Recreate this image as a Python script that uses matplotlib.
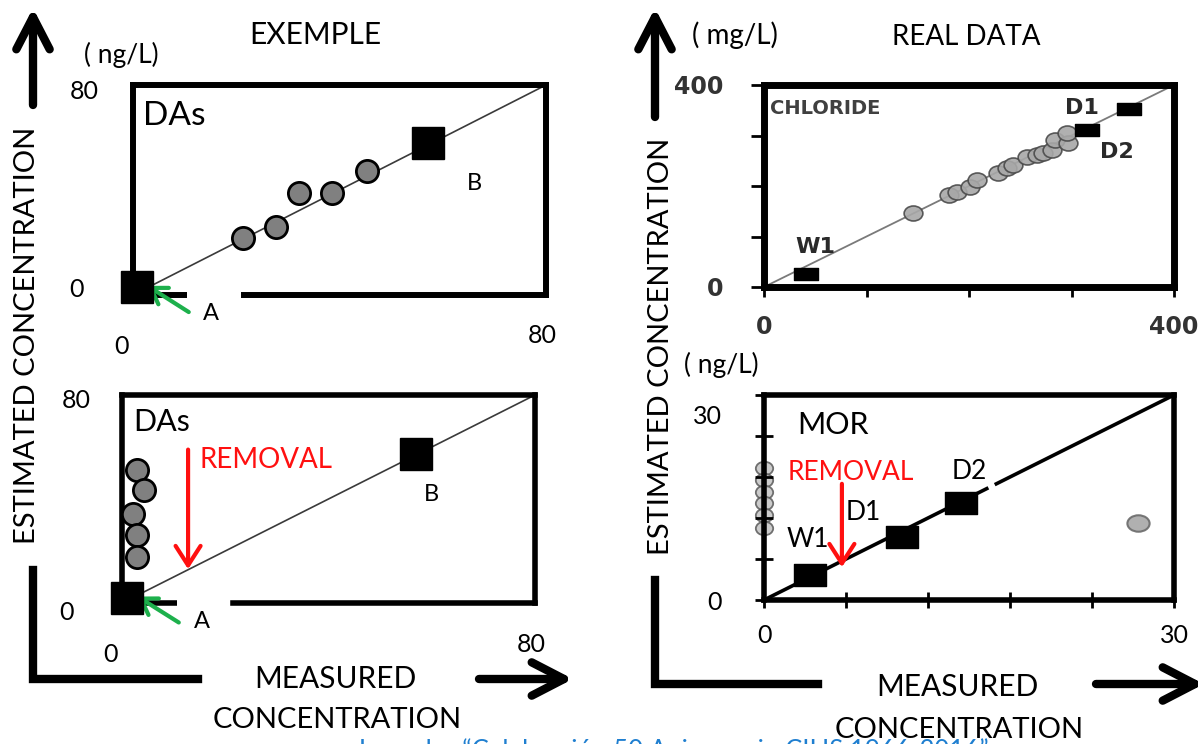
import matplotlib
matplotlib.use("Agg")
import matplotlib.pyplot as plt
from matplotlib.path import Path
from matplotlib.patches import Rectangle
from matplotlib.transforms import ScaledTranslation

plt.rcParams['font.family'] = ['Lato', 'DejaVu Sans']

W, H = 1198, 744

# EXEMPLE panels (ng/L), 0-80 on both axes
example_ticks = [0, 80]
ex_top_circles_x = [21.3, 27.7, 32.2, 38.6, 45.3]
ex_top_circles_y = [21.7, 25.9, 38.9, 38.9, 47.2]
ex_top_squares_x = [0.8, 57.2]
ex_top_squares_y = [3.0, 57.9]
ex_bot_circles_x = [2.9, 4.3, 2.1, 2.9, 2.9]
ex_bot_circles_y = [51.2, 43.5, 34.2, 26.2, 17.7]
ex_bot_squares_x = [1.0, 57.0]
ex_bot_squares_y = [2.0, 57.3]

# REAL DATA - chloride (mg/L)
chloride_ticks = [0, 100, 200, 300, 400]
chloride_x = [145, 180, 188, 201, 208, 228, 237, 243, 257, 266, 272, 281, 284, 297, 296]
chloride_y = [147, 182, 188, 198, 212, 226, 236, 242, 257, 261, 265, 271, 291, 285, 305]
chloride_sites = ['W1', 'D1', 'D2']
chloride_site_x = [41, 356, 315]
chloride_site_y = [26, 352, 311]

# REAL DATA - MOR (ng/L)
mor_ticks = [0, 6, 12, 18, 24, 30]
mor_x = [0, 0, 0, 0, 0, 0]
mor_y = [19.3, 17.6, 15.8, 14.2, 12.4, 10.5]
mor_out_x = [27.4]
mor_out_y = [11.3]
mor_sites = ['W1', 'D1', 'D2']
mor_site_x = [3.4, 10.1, 14.4]
mor_site_y = [3.7, 9.2, 14.2]

fig = plt.figure(figsize=(W / 100, H / 100), dpi=100)


def panel(l, t, r, b):
    return fig.add_axes([l / W, 1 - b / H, (r - l) / W, (b - t) / H], facecolor='none')


def rect_marker(aspect):
    return Path([(-1, -aspect), (1, -aspect), (1, aspect), (-1, aspect), (-1, -aspect)], closed=True)


def oval_marker(aspect):
    c = Path.unit_circle()
    return Path(c.vertices * [1, aspect], c.codes)


# overlay in pixel coords for the big axis arrows and titles
ax0 = fig.add_axes([0, 0, 1, 1], zorder=-1)
ax0.set_xlim(0, W)
ax0.set_ylim(H, 0)
ax0.axis('off')


def big_arrow(p0, p1):
    ax0.annotate('', xy=p1, xytext=p0, annotation_clip=False,
                 arrowprops=dict(arrowstyle='->,head_length=0.58,head_width=0.3',
                                 lw=6, color='black', mutation_scale=40,
                                 shrinkA=0, shrinkB=0))


big_arrow((33, 105), (33, 8))
big_arrow((655, 117), (655, 8))
big_arrow((479, 679), (573, 679))
big_arrow((1096, 684), (1204, 684))
ax0.plot([33, 33, 198], [570, 679, 679], color='black', lw=6, solid_joinstyle='miter')
ax0.plot([655, 655, 818], [580, 684, 684], color='black', lw=6, solid_joinstyle='miter')

ax0.text(315, 35, 'EXEMPLE', ha='center', va='center', fontsize=21.5)
ax0.text(121, 55, '( ng/L)', ha='center', va='center', fontsize=19)
ax0.text(735, 35, '( mg/L)', ha='center', va='center', fontsize=20)
ax0.text(966, 37, 'REAL DATA', ha='center', va='center', fontsize=20)
ax0.text(721, 365, '( ng/L)', ha='center', va='center', fontsize=19)
ax0.text(27, 335, 'ESTIMATED CONCENTRATION', rotation=90, ha='center', va='center', fontsize=21)
ax0.text(661, 346, 'ESTIMATED CONCENTRATION', rotation=90, ha='center', va='center', fontsize=21)
ax0.text(335, 679, 'MEASURED', ha='center', va='center', fontsize=21.5)
ax0.text(337, 720, 'CONCENTRATION', ha='center', va='center', fontsize=21)
ax0.text(957, 687, 'MEASURED', ha='center', va='center', fontsize=21.5)
ax0.text(959, 730, 'CONCENTRATION', ha='center', va='center', fontsize=21)
# footer caption, only its top edge falls inside the picture
ax0.text(355, 759, 'Jornadas \u201cCelebraci\u00f3n 50 Aniversario CIHS 1966-2016\u201d',
         ha='left', va='baseline', fontsize=18.5, color='#1f7fd0')


def example_panel(ax, cx, cy, sx, sy, lw, gap, b_off, a_off):
    ax.set_xlim(example_ticks)
    ax.set_ylim(example_ticks)
    ax.set_xticks([])
    ax.set_yticks([])
    for s in ax.spines.values():
        s.set_linewidth(lw)
    ax.spines['bottom'].set_bounds(gap[1], example_ticks[1])
    ax.plot([example_ticks[0], gap[0]], [0, 0], color='black', lw=lw,
            solid_capstyle='butt', clip_on=False, zorder=2.5)
    ax.plot(example_ticks, example_ticks, color='#3a3a3a', lw=1.2, zorder=2)
    ax.plot(cx, cy, 'o', ms=16, mfc='#808080', mec='black', mew=2, ls='none',
            clip_on=False, zorder=3)
    ax.plot(sx, sy, 's', ms=23, color='black', ls='none', clip_on=False, zorder=4)
    ax.annotate('B', (sx[1], sy[1]), xytext=b_off, textcoords='offset points',
                ha='center', va='center', fontsize=17)
    ax.annotate('A', (sx[0], sy[0]), xytext=a_off, textcoords='offset points',
                ha='center', va='center', fontsize=17, annotation_clip=False)
    ax.annotate('', xy=(sx[0] + 2, sy[0] + 0.5), xytext=(sx[0] + 10, sy[0] - 9.5),
                annotation_clip=False,
                arrowprops=dict(arrowstyle='->,head_length=0.55,head_width=0.35',
                                color='#1db04c', lw=3, mutation_scale=20,
                                shrinkA=0, shrinkB=0))


def example_ticklabels(ax, offs):
    pts = [(0, 80), (0, 0), (0, 0), (80, 0)]
    for lab, p, o in zip(['80', '0', '0', '80'], pts, offs):
        ax.annotate(lab, p, xytext=o, textcoords='offset points',
                    ha='center', va='center', fontsize=18, annotation_clip=False)


# top-left example panel
ax1 = panel(133, 85, 546, 295)
example_panel(ax1, ex_top_circles_x, ex_top_circles_y, ex_top_squares_x, ex_top_squares_y,
              4.3, (10.5, 21.5), (33, -29.5), (53, -19))
example_ticklabels(ax1, [(-35, -5), (-41, 4), (-8, -37), (-3, -29)])
das = ax1.text(1.9, 64.9, 'DAs', ha='left', va='baseline', fontsize=24)
das.set_clip_path(Rectangle((0, 66.0), 80, 20, transform=ax1.transData))

# bottom-left example panel
ax2 = panel(122, 395, 535, 603)
example_panel(ax2, ex_bot_circles_x, ex_bot_circles_y, ex_bot_squares_x, ex_bot_squares_y,
              4.0, (10.7, 21.5), (11, -29), (54, -17))
example_ticklabels(ax2, [(-33, -4), (-40, -6.5), (-8.6, -37), (-3, -30)])
ax2.text(2.1, 69.6, 'DAs', ha='left', va='center', fontsize=22)
ax2.text(15.1, 55, 'REMOVAL', ha='left', va='center', fontsize=20, color='#ff1010')
ax2.annotate('', xy=(12.8, 13), xytext=(12.8, 59),
             arrowprops=dict(arrowstyle='->,head_length=0.7,head_width=0.45',
                             color='#ff1010', lw=3, mutation_scale=20,
                             shrinkA=0, shrinkB=0))

# top-right chloride panel
ax3 = panel(764, 85, 1174, 287)
ax3.set_xlim(0, 400)
ax3.set_ylim(0, 400)
for s in ax3.spines.values():
    s.set_linewidth(5)
ends = ['0', '', '', '', '400']
ax3.set_xticks(chloride_ticks, ends)
ax3.set_yticks(chloride_ticks, ends)
ax3.tick_params(axis='both', direction='out', width=2, labelsize=17, labelcolor='#333333')
ax3.tick_params(axis='y', length=9.5, pad=20)
ax3.tick_params(axis='x', length=7, pad=13)
for lbl in ax3.get_xticklabels() + ax3.get_yticklabels():
    lbl.set_fontfamily('DejaVu Sans')
    lbl.set_fontweight('bold')
ax3.plot([0, 400], [0, 400], color='#7a7a7a', lw=1.3, zorder=2)
ax3.plot(chloride_x, chloride_y, ls='none', marker=oval_marker(0.8), ms=13.5,
         mfc='#a8a8a8', mec='#4a4a4a', mew=1.2, alpha=0.9, zorder=3)
ax3.plot(chloride_site_x, chloride_site_y, ls='none', marker=rect_marker(0.55), ms=17,
         color='black', zorder=4)
ax3.text(5.9, 354, 'CHLORIDE', ha='left', va='center', fontsize=14,
         fontfamily='DejaVu Sans', fontweight='bold', color='#404040')
site_off = {'W1': (7, 19), 'D1': (-34, 0.7), 'D2': (21.6, -15.8)}
for lab, x, y in zip(chloride_sites, chloride_site_x, chloride_site_y):
    ax3.annotate(lab, (x, y), xytext=site_off[lab], textcoords='offset points',
                 ha='center', va='center', fontsize=16, fontfamily='DejaVu Sans',
                 fontweight='bold', color='#2a2a2a')

# bottom-right MOR panel
ax4 = panel(764, 395, 1174, 600)
ax4.set_xlim(0, 30)
ax4.set_ylim(0, 30)
for s in ax4.spines.values():
    s.set_linewidth(4)
ax4.set_xticks(mor_ticks, ['0', '', '', '', '', '30'])
ax4.set_yticks(mor_ticks, ['0', '', '', '', '', '30'])
ax4.tick_params(axis='both', direction='inout', width=2, labelsize=18)
ax4.tick_params(axis='y', length=13, pad=24)
ax4.tick_params(axis='x', length=12, pad=11)
top_lab = ax4.get_yticklabels()[-1]
top_lab.set_transform(top_lab.get_transform() + ScaledTranslation(0, -0.19, fig.dpi_scale_trans))
ax4.plot([0, 16.3], [0, 16.3], color='black', lw=2.6, zorder=2)
ax4.plot([17.0, 30], [17.0, 30], color='black', lw=2.6, zorder=2)
ax4.plot(mor_x, mor_y, ls='none', marker=oval_marker(0.78), ms=12.5,
         mfc='#c4c4c4', mec='#5a5a5a', mew=1.3, alpha=0.85, clip_on=False, zorder=1.5)
ax4.plot(mor_out_x, mor_out_y, ls='none', marker=oval_marker(0.74), ms=16,
         mfc='#a8a8a8', mec='#6a6a6a', mew=1.5, alpha=0.9, zorder=3)
ax4.plot(mor_site_x, mor_site_y, ls='none', marker=rect_marker(0.69), ms=23,
         color='black', zorder=4)
ax4.text(2.4, 25.6, 'MOR', ha='left', va='center', fontsize=22)
ax4.text(1.7, 18.7, 'REMOVAL', ha='left', va='center', fontsize=19, color='#ff1010')
mor_off = {'W1': (-2, 25), 'D1': (-28, 18), 'D2': (6, 23)}
for lab, x, y in zip(mor_sites, mor_site_x, mor_site_y):
    ax4.annotate(lab, (x, y), xytext=mor_off[lab], textcoords='offset points',
                 ha='center', va='center', fontsize=19)
ax4.annotate('', xy=(5.7, 4.8), xytext=(5.7, 17),
             arrowprops=dict(arrowstyle='->,head_length=0.7,head_width=0.45',
                             color='#ff1010', lw=3, mutation_scale=20,
                             shrinkA=0, shrinkB=0))

fig.savefig('out.png', dpi=100)
